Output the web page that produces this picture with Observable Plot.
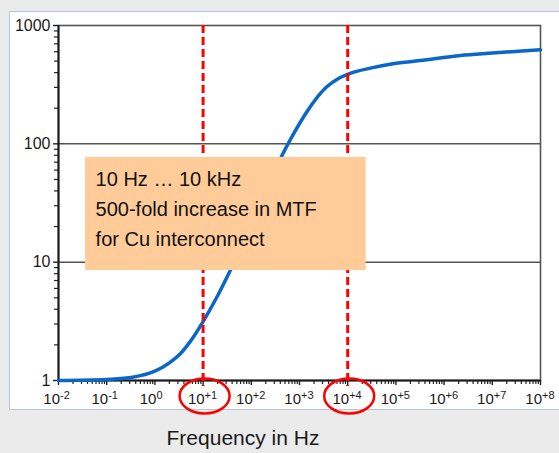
<!DOCTYPE html>
<html>
<head>
<meta charset="utf-8">
<script src="https://cdn.jsdelivr.net/npm/d3@7"></script>
<script src="https://cdn.jsdelivr.net/npm/@observablehq/plot@0.6"></script>
<style>
  html, body { margin: 0; padding: 0; background: #ebebeb; width: 559px; height: 453px; overflow: hidden; }
  #panel { position: absolute; left: 9px; top: 11px; width: 600px; height: 397px; background: #fff; border: 1px solid #b7c6de; }
  #chart { position: absolute; left: 0; top: 0; }
  svg { font-family: "Liberation Sans", Arial, sans-serif; }
</style>
</head>
<body>
<div id="panel"></div>
<div id="chart"></div>
<script>
// Curve samples
const freqHz = [1e-2, 1e-1, 0.316, 0.5, 1, 2, 3.16, 5.25, 10, 19, 35.5, 100, 200, 398, 794, 1413, 3630, 6310, 11220, 29510, 87100, 3.16e5, 2.19e6, 1e7, 1e8];
const mtf    = [1.0, 1.02, 1.06, 1.1, 1.2, 1.41, 1.64, 2.1, 3.15, 5.0, 8.3, 20, 38, 74, 126, 186, 302, 355, 394, 436, 475, 505, 559, 585, 624];

// Axes
const xDecades = [1e-2, 1e-1, 1e0, 1e1, 1e2, 1e3, 1e4, 1e5, 1e6, 1e7, 1e8];
const xExponents = ["-2", "-1", "0", "+1", "+2", "+3", "+4", "+5", "+6", "+7", "+8"];
const yDecades = [1, 10, 100, 1000];
const yTickLabels = ["1", "10", "100", "1000"];
const gridY = [10, 100];

// Annotation
const markedFreqs = [10, 1e4];
const boxLines = ["10 Hz … 10 kHz", "500-fold increase in MTF", "for Cu interconnect"];
const boxX = [0.0364, 24150];
const boxY = [8.5, 76.8];
const boxTextAt = [0.0588, 66];
const xTitle = "Frequency in Hz";

const minorX = [];
for (let i = 0; i < xDecades.length - 1; i++) for (let k = 2; k <= 9; k++) minorX.push(xDecades[i] * k);
const minorY = [];
for (let i = 0; i < yDecades.length - 1; i++) for (let k = 2; k <= 9; k++) minorY.push(yDecades[i] * k);

const curve = freqHz.map((f, i) => ({f, v: mtf[i]}));

const ellipse = {
  draw(ctx) {
    const rx = 25, ry = 17.5, k = 0.5523;
    ctx.moveTo(rx, 0);
    ctx.bezierCurveTo(rx, ry * k, rx * k, ry, 0, ry);
    ctx.bezierCurveTo(-rx * k, ry, -rx, ry * k, -rx, 0);
    ctx.bezierCurveTo(-rx, -ry * k, -rx * k, -ry, 0, -ry);
    ctx.bezierCurveTo(rx * k, -ry, rx, -ry * k, rx, 0);
    ctx.closePath();
  }
};

const noText = () => "";

const chart = Plot.plot({
  width: 559,
  height: 453,
  marginLeft: 58,
  marginRight: 19,
  marginTop: 25,
  marginBottom: 73,
  style: {background: "transparent", fontFamily: "Liberation Sans, Arial, sans-serif", color: "#1a1a1a"},
  x: {type: "log", domain: [1e-2, 1e8]},
  y: {type: "log", domain: [1, 1000]},
  marks: [
    Plot.frame({stroke: "#555", strokeWidth: 1.6}),
    Plot.ruleY(gridY, {stroke: "#555", strokeWidth: 1.5}),
    Plot.axisY(minorY, {tickSize: 4, tickFormat: noText, label: null, stroke: "#222", strokeWidth: 1.2}),
    Plot.axisY(yDecades, {tickSize: 5, tickPadding: 3, tickFormat: (d) => yTickLabels[yDecades.indexOf(d)], label: null, fontSize: 16, stroke: "#222", strokeWidth: 1.4}),
    Plot.axisX(minorX, {tickSize: 4, tickFormat: noText, label: null, stroke: "#222", strokeWidth: 1.2}),
    Plot.axisX(xDecades, {tickSize: 5, tickFormat: noText, label: null, stroke: "#222", strokeWidth: 1.4}),
    Plot.ruleX([1e-2], {stroke: "#1a1a1a", strokeWidth: 2}),
    Plot.ruleY([1], {stroke: "#1a1a1a", strokeWidth: 2}),
    Plot.line(curve, {x: "f", y: "v", stroke: "#0a66c8", strokeWidth: 3.5, curve: "monotone-x"}),
    Plot.ruleX(markedFreqs, {stroke: "#ff0000", strokeWidth: 3, strokeDasharray: "8,4", insetBottom: -6}),
    Plot.rect([0], {x1: () => boxX[0], x2: () => boxX[1], y1: () => boxY[0], y2: () => boxY[1], fill: "#ffcc99"}),
    Plot.text([boxLines.join("\n")], {x: () => boxTextAt[0], y: () => boxTextAt[1], text: (d) => d, textAnchor: "start", lineAnchor: "top", lineHeight: 1.5, fontSize: 20, fill: "#111"}),
    Plot.text(xDecades, {x: (d) => d, text: () => "10", frameAnchor: "bottom", lineAnchor: "middle", dy: 18.7, dx: 1.5, textAnchor: "end", fontSize: 15, fill: "#1a1a1a"}),
    Plot.text(xDecades, {x: (d) => d, text: (d, i) => xExponents[i], frameAnchor: "bottom", lineAnchor: "middle", dy: 15.4, dx: 1.5, textAnchor: "start", fontSize: 11, fill: "#1a1a1a"}),
    Plot.dot(markedFreqs, {x: (d) => d, frameAnchor: "bottom", dy: 15.5, dx: 1.5, symbol: ellipse, r: 10, stroke: "#ff0000", strokeWidth: 2.5, fill: "none"}),
    Plot.text([xTitle], {text: (d) => d, frameAnchor: "bottom", lineAnchor: "middle", dy: 57.5, dx: -56.5, fontSize: 21, fill: "#1a1a1a"})
  ]
});
document.getElementById("chart").appendChild(chart);
</script>
</body>
</html>
